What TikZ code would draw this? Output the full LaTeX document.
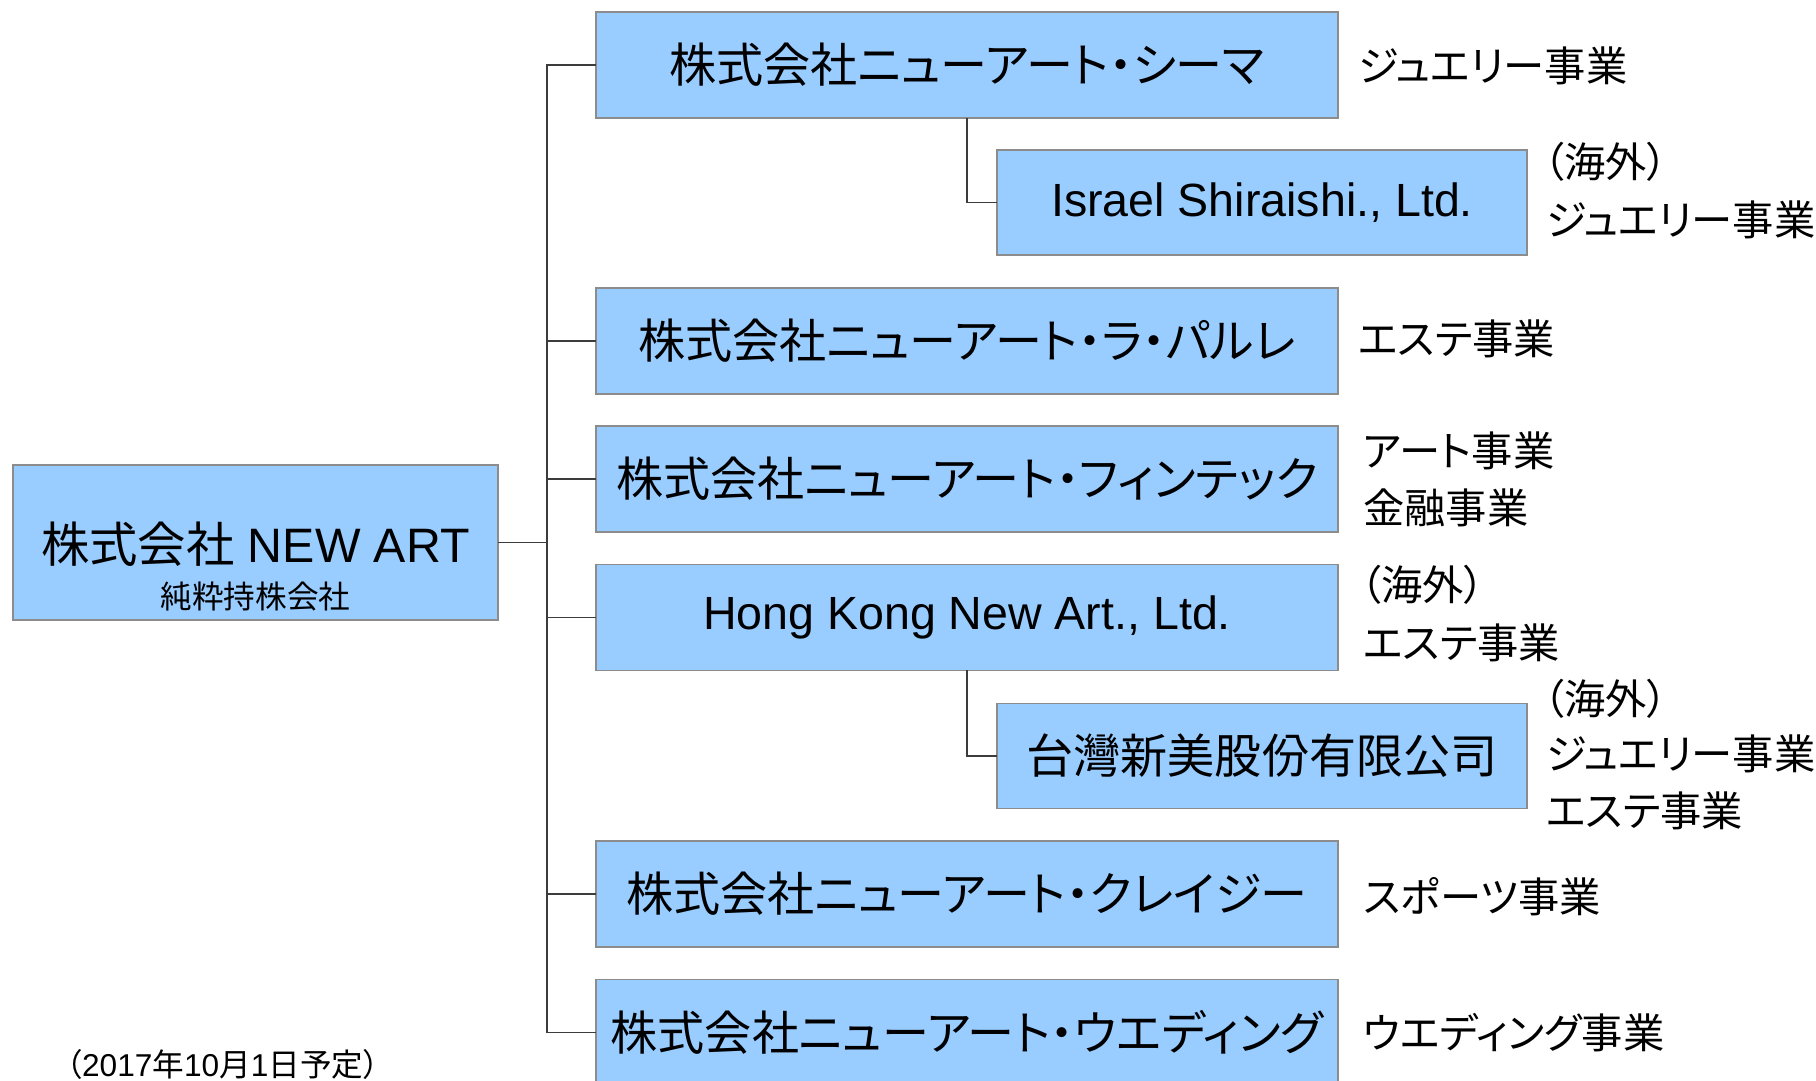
\documentclass[tikz,border=0pt]{standalone}
\usepackage{fontspec}
\setmainfont{Liberation Sans}
\newfontfamily\jp{Noto Sans CJK JP}[RawFeature=+palt]
\usetikzlibrary{positioning}

\definecolor{boxblue}{HTML}{99CCFF}
\definecolor{boxline}{HTML}{8C8C8C}
\definecolor{linkline}{HTML}{3C3C3C}

\tikzset{
	company/.style={draw=boxline, fill=boxblue, line width=1.1pt, minimum width=14.84cm, minimum height=2.12cm, inner sep=0pt, outer sep=0pt, font=\fontsize{26.5}{32}\selectfont},
	jpcompany/.style={company, font=\jp\fontsize{26.8}{32}\selectfont},
	subcompany/.style={company, minimum width=10.6cm, minimum height=2.1cm},
	business/.style={anchor=west, inner sep=0pt, font=\jp\fontsize{23.5}{28}\selectfont},
	link/.style={draw=linkline, line width=1pt}
}

\begin{document}
\begin{tikzpicture}[x=0.02cm, y=-0.02cm]
		
		\useasboundingbox (0,0) rectangle (1816,1081);
		
		% holding company
		\node[company, minimum width=9.7cm, minimum height=3.1cm] (root) at (255.5,542.5) {};
		\node[font=\fontsize{27.5}{33}\selectfont, inner sep=0pt] (rootname) at (255.5,544) {{\jp 株式会社} NEW ART};
		\node[font=\jp\fontsize{18}{22}\selectfont, inner sep=0pt] (rootsub) at (255.5,597) {純粋持株会社};
		
		% subsidiaries
		\node[jpcompany] (sima) at (967,65) {株式会社ニューアート・シーマ};
		\node[subcompany] (israel) at (1262,202.5) {Israel Shiraishi., Ltd.};
		\node[jpcompany] (parure) at (967,341) {株式会社ニューアート・ラ・パルレ};
		\node[jpcompany] (fintech) at (967,479) {株式会社ニューアート・フィンテック};
		\node[company] (hk) at (967,617.5) {Hong Kong New Art., Ltd.};
		\node[jpcompany, minimum width=10.6cm, minimum height=2.1cm] (taiwan) at (1262,756) {台灣新美股份有限公司};
		\node[jpcompany] (crazy) at (967,894) {株式会社ニューアート・クレイジー};
		\node[jpcompany] (wedding) at (967,1032.5) {株式会社ニューアート・ウエディング};
		
		% connectors
		\coordinate (hub) at (547,542.5);
		\draw[link] (root.east) -- (hub);
		\draw[link] (sima.west) -| (hub);
		\draw[link] (wedding.west) -| (hub);
		\foreach \n in {parure,fintech,hk,crazy} {
			\draw[link] (\n.west) -- (\n.west -| hub);
		}
		\draw[link] (sima.south) |- (israel.west);
		\draw[link] (hk.south) |- (taiwan.west);
		
		% business lines
		\node[business] (bsima) at (1358,66) {ジュエリー事業};
		\node[business] (bisr1) at (1543,162) {（海外）};
		\node[business] (bisr2) at (1546,220) {ジュエリー事業};
		\node[business] (bpar) at (1358,339) {エステ事業};
		\node[business] (bfin1) at (1363,451) {アート事業};
		\node[business] (bfin2) at (1363,508) {金融事業};
		\node[business] (bhk1) at (1360,585) {（海外）};
		\node[business] (bhk2) at (1363,643) {エステ事業};
		\node[business] (btw1) at (1543,699) {（海外）};
		\node[business] (btw2) at (1546,754) {ジュエリー事業};
		\node[business] (btw3) at (1546,811) {エステ事業};
		\node[business] (bcr) at (1363,897) {スポーツ事業};
		\node[business] (bwed) at (1363,1033) {ウエディング事業};
		
		% date
		\node[anchor=west, inner sep=0pt, font=\fontsize{18}{22}\selectfont] (date) at (66,1064) {{\jp （}2017{\jp 年}10{\jp 月}1{\jp 日予定）}};
		
\end{tikzpicture}
\end{document}
